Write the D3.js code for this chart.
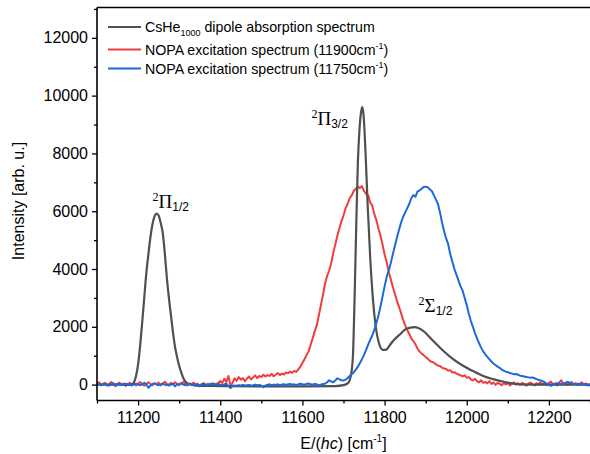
<!DOCTYPE html>
<html><head><meta charset="utf-8">
<script src="https://cdn.jsdelivr.net/npm/d3@7"></script>
<style>
body{margin:0;background:#fff;}
svg{display:block;}
text{font-family:Arial,"Liberation Sans",sans-serif;fill:#000;}
</style>
</head><body>
<svg id="chart" width="590" height="454"></svg>
<script>
// ---------- DATA ----------
const seriesNames = [
  "CsHe1000 dipole absorption spectrum",
  "NOPA excitation spectrum (11900cm-1)",
  "NOPA excitation spectrum (11750cm-1)"
];
// NOPA spectra sampled every 5 cm^-1 from 11100 to 12300
const nopaStart = 11100, nopaStep = 5;
const red11900 = [
  40, 80, -20, 30, 60, -40, 20, 90, 10, -60, 30, 70, -10, 40, -50, 20, 60, 0, 50, -30,
  40, 90, 10, -40, 30, 80, 20, -20, 50, 10, 70, -30, 40, 100, 20, -40, 60, 10, 80, 30,
  -20, 50, 90, 20, -30, 40, 10, 70, -10, 30, -60, 20, 50, -20, 30, -50, 10, 40, 0, 60,
  120, 60, 200, 90, 300, -50, 60, 220, 130, 260, 170, 230, 120, 210, 280, 180, 250, 320, 220, 300,
  260, 340, 280, 330, 300, 370, 290, 340, 400, 330, 380, 350, 420, 390, 450, 410, 470, 440, 530, 620,
  750, 880, 1020, 1150, 1380, 1600, 1850, 2050, 2400, 2750, 3100, 3500, 3750, 3950, 4200, 4550, 4850, 5150, 5400, 5650,
  5850, 6100, 6250, 6450, 6550, 6700, 6780, 6850, 6800, 6870, 6700, 6600, 6550, 6300, 6200, 5900, 5700, 5400, 5150, 4850,
  4500, 4250, 3900, 3650, 3380, 3150, 2900, 2700, 2480, 2250, 2050, 1900, 1750, 1600, 1500, 1400, 1250, 1150, 1080, 1020,
  950, 900, 820, 790, 760, 700, 660, 640, 580, 560, 540, 480, 500, 420, 430, 380, 350, 320, 290, 320,
  240, 260, 180, 140, 200, 110, 80, 150, 60, 90, 40, 120, 20, 70, -10, 60, 30, -20, 50, 10,
  60, -30, 40, 80, 0, 50, -10, 60, 20, -40, 30, 70, 10, -30, 50, 20, 80, 0, 40, -20,
  60, 100, 10, 40, -30, 70, 150, 20, 60, -10, 40, 90, 10, 50, -20, 30, 80, 0, 40, -30,
  20
];
const blue11750 = [
  20, 0, -20, 10, 30, 0, -30, 10, 40, 0, -10, 20, -20, 10, 30, -10, 0, -30, 10, 30,
  0, -20, 20, 60, 10, -110, -40, 20, 40, 0, -20, 10, 30, 0, -20, 10, -10, 30, -60, 0,
  20, 40, 0, -20, 10, 30, 0, -20, 20, 0, -30, 10, 30, 0, -20, 20, 40, 10, -10, 20,
  0, -20, 10, 30, -60, -120, -50, -30, -40, -20, -30, -10, -30, -20, -10, -30, -20, 0, -20, -10,
  -40, -90, -30, -10, 10, -20, 0, -10, 10, -20, 0, 10, -10, 10, 20, 0, 10, -20, 10, 30,
  10, 0, 20, 40, 10, 0, 20, 10, -30, 0, 20, 30, 80, 150, 110, 80, 140, 220, 180, 150,
  140, 170, 230, 300, 360, 430, 520, 620, 750, 880, 1030, 1200, 1380, 1550, 1700, 1900, 2120, 2380, 2700, 3050,
  3400, 3720, 3950, 4200, 4500, 4800, 5080, 5350, 5600, 5800, 5950, 6100, 6250, 6450, 6560, 6500, 6680, 6720, 6780, 6840,
  6850, 6830, 6760, 6700, 6550, 6400, 6250, 5950, 5600, 5300, 5050, 4850, 4500, 4250, 4000, 3800, 3600, 3400, 3250, 3000,
  2750, 2450, 2200, 2000, 1780, 1600, 1430, 1280, 1150, 1050, 960, 880, 800, 730, 680, 620, 580, 520, 480, 450,
  430, 400, 380, 360, 370, 340, 310, 300, 280, 260, 250, 240, 250, 220, 190, 160, 140, 120, 80, 30,
  -10, -40, 0, 30, 50, 40, 10, 30, 60, 90, 70, 40, 10, 20, 30, 0, 20, 10, -20, 0,
  -30
];
// CsHe1000 absorption spectrum (smooth, irregular sampling)
const grayEnergy = [11100, 11150, 11180, 11185, 11190, 11195, 11200, 11205, 11210, 11215, 11220, 11225, 11230, 11235, 11240, 11245, 11250, 11255, 11260, 11265, 11270, 11275, 11280, 11285, 11290, 11295, 11300, 11305, 11310, 11315, 11320, 11330, 11340, 11400, 11500, 11600, 11680, 11700, 11710, 11715, 11720, 11723, 11727, 11731, 11735, 11739, 11743, 11746, 11749, 11754, 11759, 11765, 11772, 11778, 11786, 11796, 11804, 11812, 11820, 11836, 11853, 11873, 11893, 11918, 11942, 11966, 11990, 12015, 12040, 12064, 12096, 12130, 12200, 12300];
const grayIntensity = [0, 0, 0, 10, 80, 300, 700, 1350, 2150, 3000, 3850, 4500, 5100, 5550, 5820, 5920, 5850, 5600, 5250, 4550, 3700, 3000, 2400, 1800, 1300, 950, 650, 420, 230, 110, 40, 0, -40, -50, -60, -60, -50, -20, 40, 150, 500, 1000, 3000, 5500, 7700, 8850, 9450, 9600, 9300, 7900, 6150, 4400, 2900, 2050, 1450, 1200, 1210, 1350, 1500, 1720, 1930, 1990, 1870, 1520, 1180, 890, 660, 470, 300, 190, 80, 10, 0, 0];

const xMajorTicks = [11200, 11400, 11600, 11800, 12000, 12200];
const xMinorTicks = [11100, 11300, 11500, 11700, 11900, 12100, 12300];
const yMajorTicks = [0, 2000, 4000, 6000, 8000, 10000, 12000];
const yMinorTicks = [1000, 3000, 5000, 7000, 9000, 11000, 13000];

// ---------- CHART ----------
const svg = d3.select("#chart");
const L = 97, R = 590, T = 7.5, B = 400.5;
const x = d3.scaleLinear().domain([11100, 12300]).range([L, R]);
const y = d3.scaleLinear().domain([-550, 13050]).range([B, T]);

const colors = ["#505050", "#f23c3c", "#1d68dc"];

svg.append("defs").append("clipPath").attr("id", "clip")
  .append("rect").attr("x", L).attr("y", T).attr("width", R - L).attr("height", B - T);

const nopaPts = arr => arr.map((v, i) => [nopaStart + i * nopaStep, v]);
const grayPts = grayEnergy.map((e, i) => [e, grayIntensity[i]]);

const lineLin = d3.line().x(d => x(d[0])).y(d => y(d[1]));
const lineSmooth = d3.line().x(d => x(d[0])).y(d => y(d[1])).curve(d3.curveMonotoneX);

const plot = svg.append("g").attr("clip-path", "url(#clip)");
plot.append("path").datum(nopaPts(red11900)).attr("d", lineLin)
  .attr("fill", "none").attr("stroke", colors[1]).attr("stroke-width", 2).attr("stroke-linejoin", "round");
plot.append("path").datum(grayPts).attr("d", lineSmooth)
  .attr("fill", "none").attr("stroke", colors[0]).attr("stroke-width", 2.2).attr("stroke-linejoin", "round");
plot.append("path").datum(nopaPts(blue11750)).attr("d", lineLin)
  .attr("fill", "none").attr("stroke", colors[2]).attr("stroke-width", 2).attr("stroke-linejoin", "round");

// axes
const fs = 16;
const gx = svg.append("g").attr("transform", `translate(0,${B})`)
  .call(d3.axisBottom(x).tickValues(xMajorTicks).tickSize(5).tickSizeOuter(0).tickPadding(6).tickFormat(d3.format("d")));
const gxm = svg.append("g").attr("transform", `translate(0,${B})`)
  .call(d3.axisBottom(x).tickValues(xMinorTicks).tickSize(3).tickSizeOuter(0).tickFormat(""));
const gy = svg.append("g").attr("transform", `translate(${L},0)`)
  .call(d3.axisLeft(y).tickValues(yMajorTicks).tickSize(5).tickSizeOuter(0).tickPadding(4).tickFormat(d3.format("d")));
const gym = svg.append("g").attr("transform", `translate(${L},0)`)
  .call(d3.axisLeft(y).tickValues(yMinorTicks).tickSize(3).tickSizeOuter(0).tickFormat(""));
[gx, gxm, gy, gym].forEach(g => {
  g.select(".domain").remove();
  g.selectAll(".tick line").attr("stroke", "#000").attr("stroke-width", 1.3);
  g.selectAll(".tick text").attr("font-size", fs).attr("font-family", "Arial, 'Liberation Sans', sans-serif").attr("fill", "#000");
});
// frame lines
svg.append("line").attr("x1", L).attr("x2", L).attr("y1", T).attr("y2", B).attr("stroke", "#000").attr("stroke-width", 1.6);
svg.append("line").attr("x1", L).attr("x2", R).attr("y1", B).attr("y2", B).attr("stroke", "#000").attr("stroke-width", 1.6);
svg.append("line").attr("x1", L).attr("x2", R).attr("y1", T).attr("y2", T).attr("stroke", "#000").attr("stroke-width", 1.6);

// axis titles
const xt = svg.append("text").attr("x", (L + R) / 2).attr("y", 449).attr("text-anchor", "middle").attr("font-size", 16);
xt.append("tspan").text("E/(");
xt.append("tspan").attr("font-style", "italic").text("hc");
xt.append("tspan").text(") [cm");
xt.append("tspan").attr("font-size", 10).attr("dy", -7).text("-1");
xt.append("tspan").attr("dy", 7).text("]");

svg.append("text").attr("transform", "translate(24,201) rotate(-90)")
  .attr("text-anchor", "middle").attr("font-size", 16).text("Intensity [arb. u.]");

// legend
const legendY = [27, 49.5, 68.5];
legendY.forEach((ly, i) => {
  svg.append("line").attr("x1", 108).attr("x2", 141).attr("y1", ly).attr("y2", ly)
    .attr("stroke", colors[i]).attr("stroke-width", 2);
});
const l1 = svg.append("text").attr("x", 145).attr("y", legendY[0] + 5).attr("font-size", 14.2);
l1.append("tspan").text("CsHe");
l1.append("tspan").attr("font-size", 9).attr("dy", 4).text("1000");
l1.append("tspan").attr("dy", -4).text(" dipole absorption spectrum");
[["11900", 1], ["11750", 2]].forEach(([w, i]) => {
  const t = svg.append("text").attr("x", 145).attr("y", legendY[i] + 5).attr("font-size", 14.2);
  t.append("tspan").text(`NOPA excitation spectrum (${w}cm`);
  t.append("tspan").attr("font-size", 9).attr("dy", -6).text("-1");
  t.append("tspan").attr("dy", 6).text(")");
});

// peak annotations
const annotations = [
  {sym: "\u03A0", sub: "1/2", e: 11245, v: 5920, dx: -4, dy: -6},
  {sym: "\u03A0", sub: "3/2", e: 11746, v: 9600, dx: -51, dy: 18},
  {sym: "\u03A3", sub: "1/2", e: 11873, v: 1990, dx: 4, dy: -15}
];
annotations.forEach(a => {
  const t = svg.append("text").attr("x", x(a.e) + a.dx).attr("y", y(a.v) + a.dy);
  t.append("tspan").attr("font-family", "'Times New Roman','Liberation Serif',serif").attr("font-size", 12).attr("dy", -7).text("2");
  t.append("tspan").attr("font-family", "'Times New Roman','Liberation Serif',serif").attr("font-size", 19).attr("dy", 7).text(a.sym);
  t.append("tspan").attr("font-size", 12).attr("dy", 3).text(a.sub);
});
</script>
</body></html>
